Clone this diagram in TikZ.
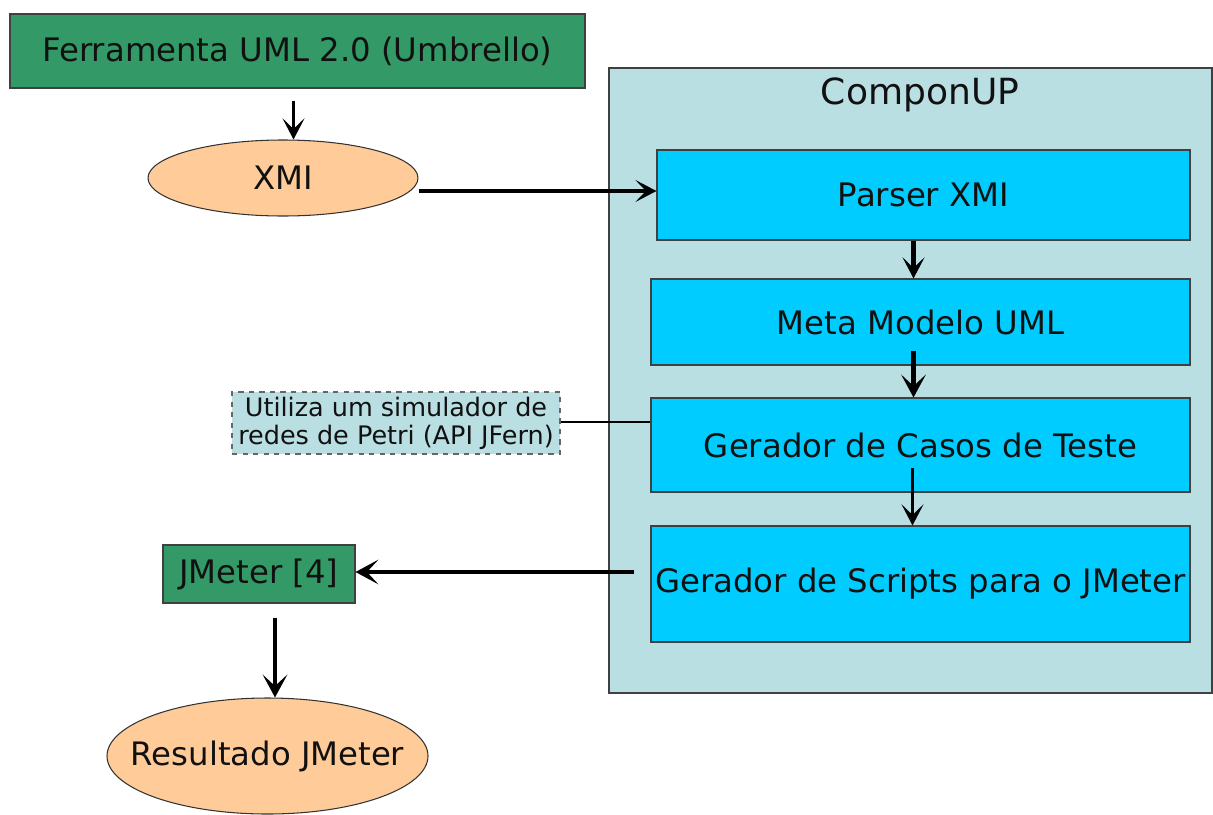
\documentclass[tikz,border=0pt]{standalone}
\usepackage{fontspec}
\setmainfont{DejaVu Sans}
\usepackage{tikz}
\usetikzlibrary{arrows.meta,positioning,calc,shapes.geometric}
\definecolor{toolgreen}{HTML}{339966}
\definecolor{peach}{HTML}{FFCC99}
\definecolor{pale}{HTML}{B9DFE3}
\definecolor{stepfill}{HTML}{00CCFF}
\definecolor{ink}{HTML}{111111}

\begin{document}
\begin{tikzpicture}[font=\fontsize{18.4}{21}\selectfont,text=ink,
  greenbox/.style={draw=black!75,line width=0.6pt,fill=toolgreen,inner sep=0pt},
  oval/.style={ellipse,draw=black!80,line width=0.6pt,fill=peach,inner sep=0pt},
  stepbox/.style={draw=black!75,line width=0.6pt,fill=stepfill,inner sep=0pt,
    minimum width=10.78cm},
  notebox/.style={draw=black!60,dashed,line width=0.6pt,fill=pale,inner sep=0pt,
    align=center,font=\fontsize{14.5}{16}\selectfont},
  arr/.style={-{Stealth[length=12pt,width=12.5pt,inset=6pt]},line width=1.9pt},
  thick arr/.style={-{Stealth[length=13pt,width=14pt,inset=6.5pt]},line width=2.8pt}]
  \useasboundingbox (0,0) rectangle (24.26,-16.28);

  % left column
  \node[greenbox,minimum width=11.5cm,minimum height=1.48cm] (umbrello)
    at (5.95,-1.02) {Ferramenta UML 2.0 (Umbrello)};
  \node[oval,minimum width=5.4cm,minimum height=1.52cm] (xmi)
    at (5.66,-3.56) {XMI};

  % ComponUP container
  \node[draw=black!75,line width=0.6pt,fill=pale,minimum width=12.06cm,
    minimum height=12.5cm] (compon) at (18.21,-7.61) {};
  \node[font=\fontsize{20.5}{23}\selectfont] (componlbl) at (18.4,-1.9) {ComponUP};

  \node[stepbox,minimum width=10.66cm,minimum height=1.8cm] (parser)
    at (18.47,-3.9) {Parser XMI};
  \node[stepbox,minimum height=1.72cm] (meta) at (18.41,-6.44) {Meta Modelo UML};
  \node[stepbox,minimum height=1.88cm] (casos) at (18.41,-8.9)
    {Gerador de Casos de Teste};
  \node[stepbox,minimum height=2.32cm] (scripts) at (18.41,-11.68)
    {Gerador de Scripts para o JMeter};

  \node[notebox,minimum width=6.56cm,minimum height=1.24cm] (note) at (7.92,-8.46)
    {Utiliza um simulador de\\redes de Petri (API JFern)};

  \node[greenbox,minimum width=3.84cm,minimum height=1.16cm] (jmeter)
    at (5.18,-11.48) {JMeter [4]};
  \node[oval,inner xsep=-0.5cm,minimum width=6.42cm,minimum height=2.32cm] (result)
    at (5.35,-15.12) {Resultado JMeter};

  % connectors
  \draw[arr,shorten <=0.24cm] ([xshift=-0.08cm]umbrello.south)
    -- ([xshift=-0.08cm]umbrello.south |- xmi.north);
  \draw[arr] ([yshift=0.08cm]xmi.east |- parser.west) -- ([yshift=0.08cm]parser.west);
  \draw[arr,line width=2.3pt] ([xshift=-0.2cm]parser.south)
    -- ([xshift=-0.14cm]meta.north);
  \draw[thick arr,shorten <=-0.3cm] ([xshift=-0.14cm]meta.south)
    -- ([xshift=-0.14cm]casos.north);
  \draw[arr,shorten <=-0.5cm] ([xshift=-0.16cm]casos.south)
    -- ([xshift=-0.16cm]scripts.north);
  \draw[line width=1.1pt] (note.east |- 0,-8.44) -- (casos.west |- 0,-8.44);
  \draw[thick arr,shorten <=0.32cm] (scripts.west |- 0,-11.44)
    -- (jmeter.east |- 0,-11.44);
  \draw[thick arr,shorten <=0.28cm] ([xshift=0.32cm]jmeter.south)
    -- ([xshift=0.32cm]jmeter.south |- result.north);
\end{tikzpicture}
\end{document}
